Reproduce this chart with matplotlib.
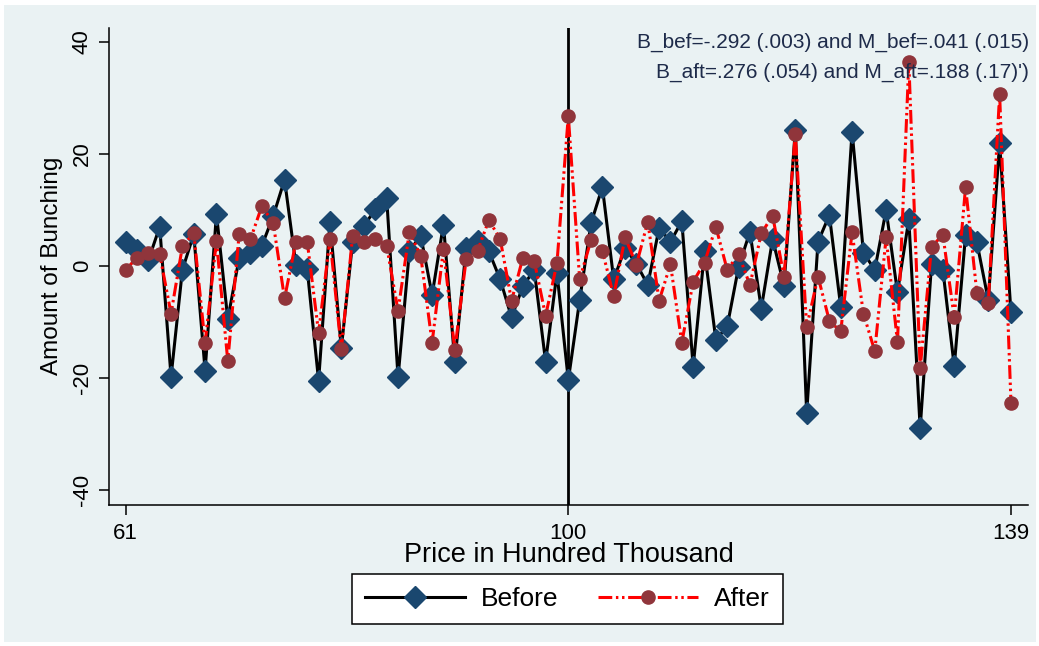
import matplotlib
matplotlib.use("Agg")
import matplotlib.pyplot as plt
from matplotlib.patches import Rectangle
from matplotlib.lines import Line2D

# Price bins (hundred thousand)
price = list(range(61, 140))

# Bunching estimate before the change
before = [4.3, 2.9, 1.0, 7.0, -19.8, -0.7, 5.7, -18.7, 9.3, -9.5,
          1.4, 2.3, 3.6, 8.9, 15.4, 0.2, -0.6, -20.5, 7.9, -14.7,
          4.3, 7.2, 10.1, 12.1, -19.9, 2.7, 5.4, -5.2, 7.4, -17.1,
          3.2, 4.5, 2.6, -2.4, -9.2, -3.6, -0.7, -17.1, -1.2, -20.4,
          -6.1, 7.6, 14.1, -2.4, 3.2, 0.4, -3.4, 6.8, 4.3, 8.0,
          -18.0, 2.6, -13.2, -10.8, -0.2, 6.1, -7.6, 4.8, -3.5, 24.3,
          -26.3, 4.3, 9.1, -7.3, 24.0, 2.4, -0.7, 10.0, -4.7, 8.3,
          -29.0, 0.3, -0.7, -17.9, 5.5, 4.2, -6.1, 21.9, -8.3]

# Bunching estimate after the change
after = [-0.7, 1.5, 2.4, 2.1, -8.5, 3.5, 5.9, -13.8, 4.5, -17.0,
         5.7, 4.8, 10.7, 7.7, -5.8, 4.3, 4.3, -11.9, 4.8, -14.9,
         5.4, 4.2, 4.9, 3.6, -8.0, 6.1, 1.8, -13.7, 3.0, -15.0,
         1.2, 2.7, 8.2, 4.8, -6.2, 1.5, 0.9, -8.9, 0.5, 26.8,
         -2.4, 4.6, 2.7, -5.4, 5.1, 0.2, 7.9, -6.2, 0.3, -13.7,
         -2.8, 0.6, 7.0, -0.7, 2.1, -3.4, 5.8, 9.0, -1.9, 23.6,
         -10.9, -1.9, -9.8, -11.7, 6.0, -8.5, -15.2, 5.1, -13.6, 36.4,
         -18.3, 3.4, 5.6, -9.2, 14.1, -4.9, -6.7, 30.7, -24.4]

x_ticks = [61, 100, 139]
y_ticks = [-40, -20, 0, 20, 40]
threshold = 100
note_lines = ["B_bef=-.292 (.003) and M_bef=.041 (.015)",
              "B_aft=.276 (.054) and M_aft=.188 (.17)')"]

BG = "#EAF2F3"
NAVY = "#1A476F"
MAROON = "#90353B"
TEXT_NAVY = "#1E2B4A"
AFTER_DASH = (4.5, 1.2, 0.8, 1.2, 0.8, 1.2)

plt.rcParams["font.family"] = ["Liberation Sans", "DejaVu Sans"]

W, H = 1039, 646
fig = plt.figure(figsize=(W / 100, H / 100), dpi=100)
fig.patch.set_facecolor("white")
fig.patches.append(Rectangle((4 / W, 4 / H), 1 - 7 / W, 1 - 9 / H,
                             transform=fig.transFigure, facecolor=BG,
                             edgecolor="none", zorder=-10))

ax = fig.add_axes([109.3 / W, 1 - 504.5 / H,
                   (1028 - 109.3) / W, (504.5 - 28) / H])
ax.set_facecolor(BG)
for side in ("top", "right"):
    ax.spines[side].set_visible(False)
for side in ("left", "bottom"):
    ax.spines[side].set_linewidth(1.1)
    ax.spines[side].set_color("black")

ax.set_xlim(59.56, 140.5)
ax.set_ylim(-42.6, 42.5)

ax.axvline(threshold, color="black", lw=2.0, zorder=1)

ax.plot(price, before, color="black", lw=2.2, ls="-",
        marker="D", markersize=11, markerfacecolor=NAVY,
        markeredgecolor=NAVY, zorder=2, label="Before")
ax.plot(price, after, color="#FF0000", lw=2.2, dashes=AFTER_DASH,
        marker="o", markersize=9.5, markerfacecolor=MAROON,
        markeredgecolor=MAROON, zorder=3, label="After")

ax.set_xticks(x_ticks)
ax.set_yticks(y_ticks)
ax.set_xticklabels([str(v) for v in x_ticks])
ax.set_yticklabels([str(v) for v in y_ticks], rotation=90, va="center")
ax.tick_params(axis="both", direction="out", length=7, width=1.1,
               labelsize=16, colors="black")
ax.tick_params(axis="x", pad=6)
ax.tick_params(axis="y", pad=5)

ax.set_xlabel("Price in Hundred Thousand", fontsize=19.5, labelpad=-1)
ax.set_ylabel("Amount of Bunching", fontsize=17.5, labelpad=6)

# note lines, placed in figure pixels measured from the top
for text, py in zip(note_lines, (42, 72)):
    fig.text(1029 / W, 1 - py / H, text, ha="right", va="center",
             fontsize=15, color=TEXT_NAVY)

handles = [
    Line2D([], [], color="black", lw=2.2, marker="D", markersize=11,
           markerfacecolor=NAVY, markeredgecolor=NAVY),
    Line2D([], [], color="#FF0000", lw=2.2, dashes=AFTER_DASH, marker="o",
           markersize=9.5, markerfacecolor=MAROON, markeredgecolor=MAROON),
]
leg = fig.legend(handles, ["Before", "After"], loc="center",
                 bbox_to_anchor=(567.5 / W, 1 - 599 / H), ncol=2,
                 fontsize=19, frameon=True, fancybox=False,
                 handlelength=3.8, handletextpad=0.6, columnspacing=1.5,
                 borderpad=0.5, borderaxespad=0)
frame = leg.get_frame()
frame.set_facecolor("white")
frame.set_edgecolor("black")
frame.set_linewidth(1.1)
frame.set_alpha(1)

fig.savefig("out.png", dpi=100, facecolor=fig.get_facecolor())
